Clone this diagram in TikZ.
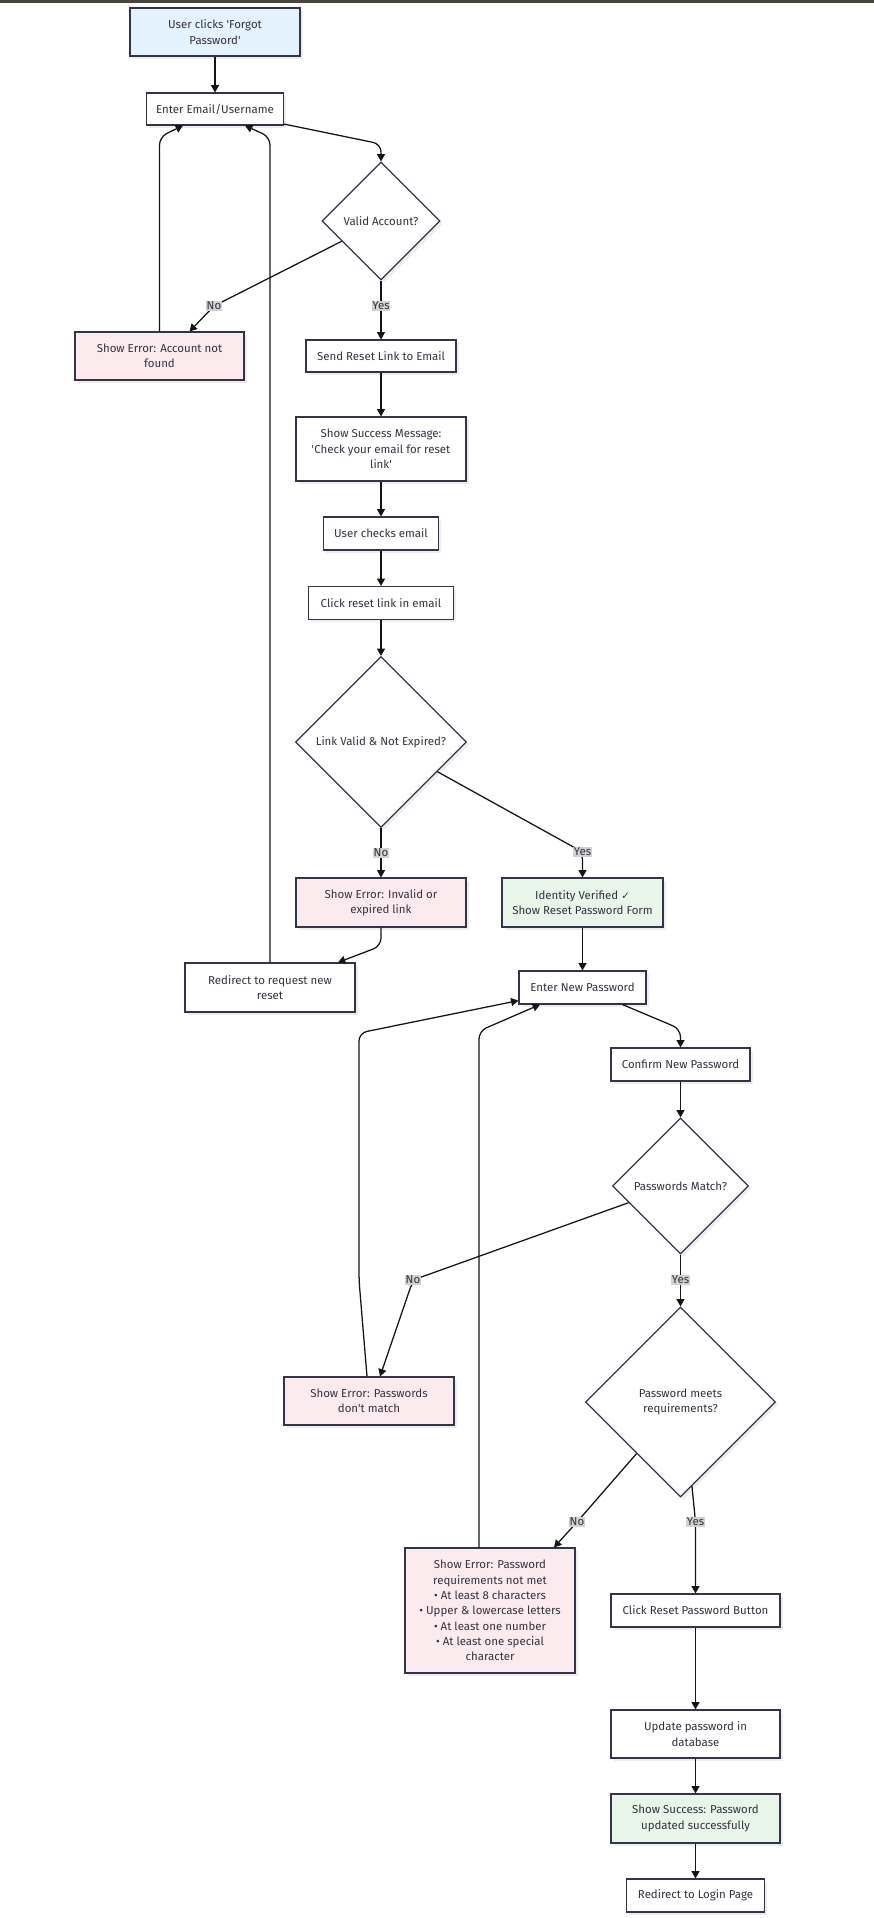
\documentclass[tikz,border=0pt]{standalone}
\usepackage{fontspec}
\setmainfont{Fira Sans}
\newfontfamily\djv{DejaVu Sans}
\usetikzlibrary{shapes.geometric,arrows.meta,shadows,calc}
\definecolor{bord}{HTML}{33334A}
\definecolor{txt}{HTML}{333340}
\definecolor{bluef}{HTML}{E4F2FD}
\definecolor{pinkf}{HTML}{FCEBEE}
\definecolor{greenf}{HTML}{E8F5E9}
\definecolor{lblg}{HTML}{D2D2D2}
\definecolor{topbar}{HTML}{46463F}
\newcommand{\sq}{\textquotesingle}
\begin{document}
\begin{tikzpicture}[x=0.75pt,y=-0.75pt,
  font=\fontsize{8.6}{11.5}\selectfont,
  box/.style={draw=bord, line width=0.85pt, fill=white, inner sep=0pt, align=center, text=txt,
    drop shadow={shadow xshift=2pt, shadow yshift=-2pt, fill=black, opacity=0.07}},
  dia/.style={box, shape=diamond, aspect=1},
  arr/.style={-{Triangle[length=5.5pt,width=6pt]}, line width=0.95pt, draw=black!92, rounded corners=6pt},
  lbl/.style={fill=lblg, inner xsep=0.6pt, inner ysep=0.8pt, text=txt, rounded corners=0pt}]
\useasboundingbox (0,0) rectangle (874,1918);
\fill[white] (0,0) rectangle (874,1918);
\fill[topbar] (0,0) rectangle (874,2.6);
% nodes
\node[box, fill=bluef, minimum width=170*0.75pt, minimum height=48*0.75pt] (n1) at (215,32) {User clicks \sq Forgot\\Password\sq};
\node[box, minimum width=137*0.75pt, minimum height=32*0.75pt] (n2) at (215,109) {Enter Email/Username};
\node[dia, minimum width=118*0.75pt, minimum height=118*0.75pt] (n3) at (381,221) {Valid Account?};
\node[box, fill=pinkf, minimum width=169*0.75pt, minimum height=48*0.75pt] (n4) at (159.5,356) {Show Error: Account not\\found};
\node[box, minimum width=150*0.75pt, minimum height=32*0.75pt] (n5) at (381,356) {Send Reset Link to Email};
\node[box, minimum width=170*0.75pt, minimum height=64*0.75pt] (n6) at (381,449) {Show Success Message:\\\sq Check your email for reset\\link\sq};
\node[box, minimum width=115*0.75pt, minimum height=33*0.75pt] (n7) at (381,533.5) {User checks email};
\node[box, minimum width=145*0.75pt, minimum height=33*0.75pt] (n8) at (381,603) {Click reset link in email};
\node[dia, minimum width=171*0.75pt, minimum height=171*0.75pt] (n9) at (381,742) {Link Valid \& Not Expired?};
\node[box, fill=pinkf, minimum width=170*0.75pt, minimum height=49*0.75pt] (n10) at (381,902.5) {Show Error: Invalid or\\expired link};
\node[box, fill=greenf, minimum width=161*0.75pt, minimum height=49*0.75pt] (n11) at (582.5,902.5) {Identity Verified {\djv\fontsize{7.6}{11.5}\selectfont ✓}\\Show Reset Password Form};
\node[box, minimum width=170*0.75pt, minimum height=49*0.75pt] (n12) at (270,987.5) {Redirect to request new\\reset};
\node[box, minimum width=127*0.75pt, minimum height=33*0.75pt] (n13) at (582.5,987.5) {Enter New Password};
\node[box, minimum width=139*0.75pt, minimum height=33*0.75pt] (n14) at (680.5,1064.5) {Confirm New Password};
\node[dia, minimum width=136*0.75pt, minimum height=136*0.75pt] (n15) at (680.5,1186) {Passwords Match?};
\node[box, fill=pinkf, minimum width=170*0.75pt, minimum height=48*0.75pt] (n16) at (369,1401) {Show Error: Passwords\\don\sq t match};
\node[dia, minimum width=190*0.75pt, minimum height=190*0.75pt] (n17) at (680.5,1402) {Password meets\\requirements?};
\node[box, fill=pinkf, minimum width=170*0.75pt, minimum height=125*0.75pt] (n18) at (490,1610.5) {Show Error: Password\\requirements not met\\• At least 8 characters\\• Upper \& lowercase letters\\• At least one number\\• At least one special\\character};
\node[box, minimum width=169*0.75pt, minimum height=33*0.75pt] (n19) at (695.5,1610.5) {Click Reset Password Button};
\node[box, minimum width=169*0.75pt, minimum height=48*0.75pt] (n20) at (695.5,1734) {Update password in\\database};
\node[box, fill=greenf, minimum width=169*0.75pt, minimum height=49*0.75pt] (n21) at (695.5,1818.5) {Show Success: Password\\updated successfully};
\node[box, minimum width=138*0.75pt, minimum height=33*0.75pt] (n22) at (695.5,1895.5) {Redirect to Login Page};
% edges
\draw[arr] (n1.south) -- (n2.north);
\draw[arr] ($(n2.south east)+(0,-1.5)$) -- (381,144) -- (n3.north);
\draw[arr] ($(n3.west)!0.34!(n3.south)$) -- (214,306) node[lbl]{No} -- ($(n4.north)+(30,0)$);
\draw[arr] (n3.south) -- node[lbl,pos=0.43]{Yes} (n5.north);
\draw[arr] (n4.north) -- (159.5,137) -- ($(n2.south)+(-32,0)$);
\draw[arr] (n12.north) -- (270,137) -- ($(n2.south)+(30,0)$);
\draw[arr] (n5.south) -- (n6.north);
\draw[arr] (n6.south) -- (n7.north);
\draw[arr] (n7.south) -- (n8.north);
\draw[arr] (n8.south) -- (n9.north);
\draw[arr] (n9.south) -- node[lbl,pos=0.5]{No} (n10.north);
\draw[arr] ($(n9.east)!0.345!(n9.south)$) -- (582.5,852) node[lbl]{Yes} -- (n11.north);
\draw[arr] (n10.south) -- (381,946) -- ($(n12.north)+(68,0)$);
\draw[arr] (n11.south) -- (n13.north);
\draw[arr] ($(n13.south east)+(-24,0)$) -- (680.5,1029) -- (n14.north);
\draw[arr] (n14.south) -- (n15.north);
\draw[arr] ($(n15.west)!0.243!(n15.south)$) -- (413,1280) node[lbl]{No} -- ($(n16.north)+(11,0)$);
\draw[arr] (n15.south) -- node[lbl,pos=0.49]{Yes} (n17.north);
\draw[arr] ($(n16.north)+(-2,0)$) -- (359,1280) -- (359,1033) -- ($(n13.south west)+(0,-4)$);
\draw[arr] ($(n18.north)+(-11,0)$) -- (479,1031) -- ($(n13.south)+(-42.5,0)$);
\draw[arr] ($(n17.west)!0.54!(n17.south)$) -- (577,1522) node[lbl]{No} -- ($(n18.north)+(64,0)$);
\draw[arr] ($(n17.east)!0.88!(n17.south)$) -- (695.5,1522) node[lbl]{Yes} -- (n19.north);
\draw[arr] (n19.south) -- (n20.north);
\draw[arr] (n20.south) -- (n21.north);
\draw[arr] (n21.south) -- (n22.north);
\end{tikzpicture}
\end{document}
